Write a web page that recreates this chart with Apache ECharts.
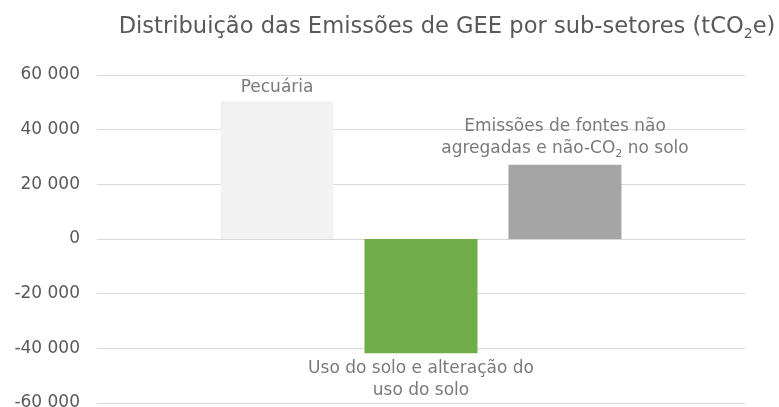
<!DOCTYPE html>
<html>
<head>
<meta charset="utf-8">
<script src="https://cdn.jsdelivr.net/npm/echarts@6/dist/echarts.min.js"></script>
<style>
  html, body { margin: 0; padding: 0; background: #ffffff; }
  #chart { width: 779px; height: 407px; }
</style>
</head>
<body>
<div id="chart"></div>
<script>
var titleText = 'Distribuição das Emissões de GEE por sub-setores (tCO{sub|2}e)';

// one series per sub-sector
var sectorNames = ['Pecuária', 'Uso do solo e alteração do\nuso do solo', 'Emissões de fontes não\nagregadas e não-CO{sub|2} no solo'];
var sectorValues = [50400, -41800, 27200];
var sectorColors = ['#f2f2f2', '#70ad47', '#a5a5a5'];
var labelPos = ['top', 'bottom', 'top'];
var labelDist = [3, 4, 5];

var yTicks = [-60000, -40000, -20000, 0, 20000, 40000, 60000];

var font = 'DejaVu Sans';

function fmt(v){
	var s = String(Math.abs(v)).replace(/\B(?=(\d{3})+(?!\d))/g, ' ');
	return (v < 0 ? '-' : '') + s;
}

var series = [];
for(var i = 0; i < sectorValues.length; i++){
	series.push({
		name: 'S' + i,
		type: 'bar',
		barWidth: 113,
		barGap: '27.4%',
		data: [sectorValues[i]],
		itemStyle: { color: sectorColors[i] },
		label: {
			show: true,
			position: labelPos[i],
			distance: labelDist[i],
			formatter: sectorNames[i],
			color: '#7a7a7a',
			fontFamily: font,
			fontSize: 17,
			lineHeight: 22,
			align: 'center',
			rich: {
				sub: { fontSize: 11, color: '#7a7a7a', fontFamily: font, padding: [10, 0, 0, 0] }
			}
		}
	});
}

var chart = echarts.init(document.getElementById('chart'));
chart.setOption({
	backgroundColor: '#ffffff',
	animation: false,
	title: {
		text: titleText,
		left: 442,
		textAlign: 'center',
		top: 9,
		textStyle: {
			fontFamily: font,
			fontWeight: 'normal',
			fontSize: 22.6,
			color: '#595959',
			rich: {
				sub: { fontSize: 14, color: '#595959', fontFamily: font, padding: [13, 0, 0, 0] }
			}
		}
	},
	grid: { left: 97, right: 34, top: 75, bottom: 4, containLabel: false, outerBoundsMode: 'none' },
	xAxis: {
		type: 'category',
		data: [''],
		axisLine: { show: false },
		axisTick: { show: false },
		axisLabel: { show: false }
	},
	yAxis: {
		type: 'value',
		min: yTicks[0],
		max: yTicks[yTicks.length - 1],
		interval: 20000,
		axisLine: { show: false },
		axisTick: { show: false },
		splitLine: { lineStyle: { color: '#d9d9d9', width: 1 } },
		axisLabel: {
			margin: 17,
			fontFamily: font,
			fontSize: 17,
			color: '#595959',
			formatter: fmt
		}
	},
	series: series
});
</script>
</body>
</html>
